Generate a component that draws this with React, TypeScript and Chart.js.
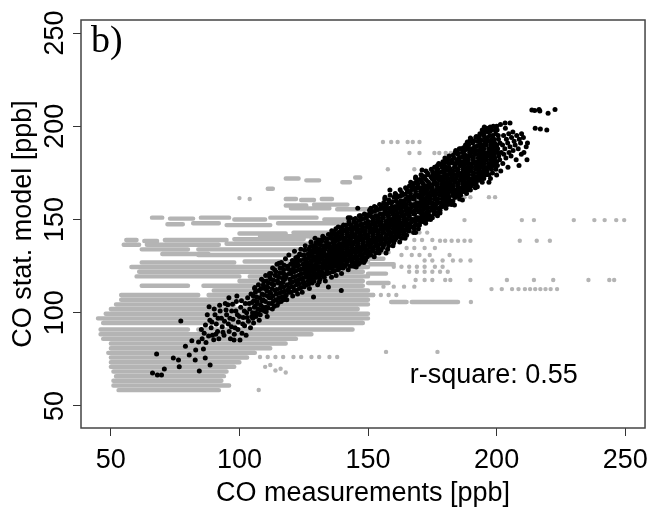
import { useEffect, useRef } from 'react';
import { Chart, registerables } from 'chart.js';

Chart.register(...registerables);

// ---- axes ----
const xTickValues = [50, 100, 150, 200, 250];
const yTickValues = [50, 100, 150, 200, 250];
const xRange = [38.4, 257.7];
const yRange = [38.2, 257];
const xTitle = 'CO measurements [ppb]';
const yTitle = 'CO stat. model [ppb]';
const panelLabel = 'b)';
const statLabel = 'r-square: 0.55';
const statPos = [166.2, 62.3];

// ---- gray series: horizontal runs of overlapping dots [y, xStart, xEnd] ----
const grayRuns: number[][] = [
  [172, 118, 123], [171, 126, 131], [170, 140, 143], [172.5, 145, 147], [166.5, 111, 113],
  [161, 118, 122], [160.5, 124, 129], [161, 132, 136],
  [157.5, 118, 126], [158, 129, 142], [156, 120, 135], [155.5, 138, 150],
  [151, 66, 70], [150.5, 73, 82], [151, 85, 96], [150, 98, 110], [151, 112, 130], [150, 133, 150],
  [147.5, 72, 78], [148, 82, 92], [147, 95, 112], [148, 115, 140], [147.5, 143, 155],
  [142.5, 100, 118], [143, 121, 150], [141, 108, 135], [145, 155, 162],
  [139, 56, 60], [138.5, 63, 68], [139, 71, 95], [139.5, 98, 125], [139, 128, 152],
  [136.5, 55, 61], [136.5, 64, 92], [137, 95, 150],
  [134, 62, 80], [134, 84, 150], [131.5, 70, 88], [131, 84, 152], [132.5, 152, 158],
  [129, 150, 156], [127, 62, 98], [127.5, 102, 150], [126, 151, 160], [124.5, 58, 150], [122, 61, 148],
  [121, 150, 157], [119.5, 60, 100], [119.5, 104, 150], [117, 100, 148], [116, 150, 158],
  [114.5, 62, 80], [114.5, 86, 148], [112, 90, 150],
  [109.5, 54, 84], [109.5, 88, 152], [107, 54, 150],
  [104.5, 52, 98], [104.5, 102, 150], [105.8, 159, 165], [105.8, 167, 185],
  [102, 50, 146], [99.5, 48, 150], [97, 45, 150], [94.5, 47, 148],
  [91, 46, 80], [91, 84, 144], [88.5, 46, 128], [86, 47, 122], [83.5, 50, 118],
  [81, 50, 112], [78.5, 49, 106], [76, 50, 103], [73.5, 50, 100], [71, 50, 98],
  [68.5, 51, 95], [66, 52, 94], [63.5, 51, 93], [61, 51, 96], [58.5, 53, 92],
];

// ---- gray series: isolated dots [x, y] ----
const grayDots: number[][] = [
  [155.8, 191.6], [159, 191.6], [161.5, 191.6], [165.4, 191.6], [167.4, 191.6], [170, 191.6],
  [166.1, 185.7], [170, 185.7], [175.8, 185.7], [177.7, 185.7], [180.2, 185.7], [182.2, 185.7],
  [157.7, 177], [168, 177], [100, 161.5], [104, 161],
  [174, 162], [184.7, 162], [187.5, 162], [189.8, 162], [197, 162], [199.4, 162],
  [187.5, 149.7], [209.8, 149.7], [214.5, 149.7], [230, 149.7], [238, 149.7], [242, 149.7], [246.5, 149.7], [249.6, 149.7],
  [155, 146.1], [158, 146.1], [161, 146.1], [166, 143], [170, 143], [173, 143],
  [168, 139], [171, 139], [175, 139],
  [178, 138.6], [180, 138.6], [182.5, 138.6], [185, 138.6], [187.5, 138.6], [189.8, 138.6], [209, 138.6], [215.6, 138.6], [220.7, 138.6],
  [165, 134.7], [168, 134.7], [172, 134.7], [176, 134.7],
  [163, 131], [167, 131], [170, 131], [174, 131], [181.7, 131],
  [172, 128], [175, 128], [179, 128], [183, 128], [186, 128], [189.8, 128],
  [160, 124.7], [163, 124.7], [166, 124.7], [169, 124.7], [172, 124.7], [176, 124.7], [179, 124.7],
  [166, 122], [169, 122], [172, 122], [175, 122], [178, 122], [181, 122],
  [168.5, 117.6], [172, 117.6], [175, 117.6], [180, 117.6], [182, 117.6], [189.8, 117.6], [204, 117.6], [214.5, 117.6], [222, 117.6], [235.7, 117.6], [243.8, 117.6], [245.7, 117.6],
  [156, 114], [160, 114], [164, 114], [168, 114],
  [198, 112.7], [202, 112.7], [206, 112.7], [208.5, 112.7], [211, 112.7], [213, 112.7], [215, 112.7], [217, 112.7], [219, 112.7], [221, 112.7], [223.5, 112.7],
  [152, 109.5], [155, 109.5], [158, 109.5], [161, 109.5],
  [190, 105.8], [157, 79], [177, 79],
  [108, 76.3], [111, 76.3], [114, 76.3], [117, 76.3], [121, 76.3], [124, 76.3], [128, 76.3], [131, 76.3], [135, 76.3], [138, 76.3],
  [110, 71], [112, 72], [114, 69], [116, 70], [118, 68], [107.5, 58.6],
];

// ---- black series [x, y] ----
const blackLow: number[][] = [
  [66.2, 67.7], [68.1, 66.6], [69.7, 66.6], [70.8, 69.8], [67.8, 77.9], [74.3, 75.7], [76.3, 74.7], [76.6, 71.0],
  [77.2, 95.6], [80.5, 77.3], [82.8, 74.7], [84.4, 68.8], [86.7, 75.7], [88.6, 72.0],
  [84.1, 84.3], [85.5, 86], [86.3, 89], [87, 84], [88.2, 103.2], [88.5, 96], [89, 92], [89.5, 88], [90, 85.5],
  [90.5, 99], [91, 94], [91.5, 90], [92, 86], [92.5, 101], [93, 97], [93.3, 92.5], [94, 88], [94.5, 105],
  [95, 99], [95.5, 104.3], [95.7, 94], [96, 90], [96.5, 86], [97, 101], [97.5, 96.5], [97.9, 85.4],
  [98.3, 92], [98.8, 106], [99.2, 99], [99.6, 95], [100.2, 85.4], [100.5, 103], [101, 89], [101.5, 97.5],
  [102, 93], [102.3, 104.9], [102.8, 100], [103.2, 108], [103.5, 95.5], [104, 102], [104.5, 110], [104.8, 98], [105, 105.5],
  [85.2, 91], [86.8, 93.5], [87.5, 99], [88, 87.5], [89.3, 95], [90.2, 102], [90.8, 88.5], [91.7, 97],
  [92.3, 104], [93.6, 89.5], [94.2, 95.5], [94.8, 101.5], [95.9, 108], [96.3, 97], [96.9, 92.5], [97.3, 104.5],
  [98, 88.5], [98.6, 101], [99, 109], [99.4, 91], [100, 98], [100.8, 106.5], [101.3, 94], [101.9, 101],
  [102.6, 88], [103, 97.5], [103.8, 105], [104.3, 92], [105.5, 94.5], [106, 113.5], [83, 80], [81.5, 85], [86, 80.5], [79, 82],
];

const blackMid: number[][] = [
  [105.2, 97], [105.8, 103], [105.4, 109], [105.9, 113], [106.3, 100], [106.8, 106], [106.2, 111],
  [107.7, 96], [107.2, 102], [107.9, 108], [107.4, 115], [108.3, 104], [108.8, 110], [108.6, 118], [108.1, 99],
  [109.7, 101], [109.2, 107], [109.8, 113], [109.4, 117], [110.3, 103], [110.9, 109], [110.6, 114], [110.2, 120], [110.8, 98],
  [111.4, 105], [111.9, 111], [111.2, 116], [111.7, 121], [112.8, 102], [112.3, 108], [112.7, 113], [112.2, 118], [112.9, 124],
  [113.2, 106], [113.8, 112], [113.4, 115], [113.9, 120], [114.7, 104], [114.3, 110], [114.8, 117], [114.2, 122], [114.6, 126],
  [115.3, 108], [115.9, 113], [115.4, 119], [115.8, 124], [116.2, 106], [116.7, 111], [116.4, 116], [116.9, 121], [116.3, 127],
  [117.8, 109], [117.3, 114], [117.6, 118], [117.2, 123], [117.9, 129], [118.4, 107], [118.9, 112], [118.2, 120], [118.7, 125],
  [119.3, 111], [119.8, 116], [119.4, 121], [119.9, 126], [119.2, 131], [120.7, 109], [120.2, 114], [120.8, 119], [120.4, 123], [120.6, 128],
  [121.3, 112], [121.8, 117], [121.2, 122], [121.7, 127], [121.4, 133], [122.6, 110], [122.2, 115], [122.9, 120], [122.4, 125], [122.7, 130],
  [123.3, 113], [123.8, 118], [123.2, 123], [123.6, 128], [123.9, 134], [124.4, 111], [124.8, 116], [124.2, 121], [124.7, 126], [124.3, 131],
  [125.2, 114], [125.7, 119], [125.4, 123], [125.9, 127], [125.1, 131], [125.6, 136],
  [126.8, 117], [126.3, 121], [126.6, 125], [126.2, 129], [126.9, 134],
  [127.2, 113], [127.7, 118], [127.4, 122], [127.9, 126], [127.1, 130], [127.6, 133], [127.8, 138],
  [128.3, 116], [128.8, 120], [128.4, 124], [128.9, 128], [128.2, 132], [128.7, 136],
  [129.7, 119], [129.2, 123], [129.8, 126], [129.3, 130], [129.6, 135], [129.4, 140],
  [130.4, 115], [130.8, 121], [130.2, 125], [130.7, 129], [130.3, 133], [130.9, 137],
  [131.3, 118], [131.7, 122], [131.2, 127], [131.8, 131], [131.4, 134], [131.6, 139],
  [132.7, 120], [132.3, 124], [132.8, 128], [132.2, 132], [132.6, 136], [132.4, 141],
  [133.4, 117], [133.9, 123], [133.2, 126], [133.6, 130], [133.3, 134], [133.8, 138],
  [134.2, 121], [134.7, 125], [134.4, 129], [134.9, 133], [134.3, 137], [134.6, 142],
  [135.8, 119], [135.3, 124], [135.7, 127], [135.2, 131], [135.6, 135], [135.4, 140], [135.9, 144],
  [136.3, 122], [136.8, 126], [136.2, 130], [136.7, 134], [136.4, 138], [136.9, 142],
  [137.6, 120], [137.2, 125], [137.8, 128], [137.3, 132], [137.7, 136], [137.1, 140], [137.5, 145],
  [138.4, 123], [138.9, 127], [138.3, 131], [138.7, 135], [138.2, 139], [138.6, 143],
  [139.7, 121], [139.3, 126], [139.8, 130], [139.2, 133], [139.6, 137], [139.4, 141], [139.9, 146],
  [140.3, 124], [140.8, 128], [140.4, 132], [140.9, 136], [140.2, 140], [140.7, 144],
  [141.6, 126], [141.2, 130], [141.7, 134], [141.3, 138], [141.8, 142], [141.4, 147],
  [142.3, 123], [142.8, 129], [142.2, 133], [142.7, 137], [142.4, 141], [142.9, 145], [142.6, 149],
  [143.7, 127], [143.3, 131], [143.8, 135], [143.2, 139], [143.6, 143], [143.4, 147],
  [144.4, 125], [144.8, 130], [144.3, 134], [144.7, 138], [144.2, 142], [144.9, 146], [144.5, 150],
  [145.7, 128], [145.2, 132], [145.8, 136], [145.4, 140], [145.6, 144], [145.3, 148],
  [146.3, 126], [146.8, 131], [146.2, 135], [146.7, 139], [146.4, 143], [146.9, 147], [146.6, 152],
  [147.6, 129], [147.2, 133], [147.9, 137], [147.3, 141], [147.7, 145], [147.4, 150],
  [148.4, 127], [148.8, 132], [148.2, 136], [148.7, 140], [148.3, 144], [148.9, 148], [148.6, 153],
  [149.7, 130], [149.3, 134], [149.8, 138], [149.2, 142], [149.6, 146], [149.4, 151],
];

const blackUpper: number[][] = [
  [150.3, 131], [150.8, 135], [150.2, 139], [150.7, 143], [150.4, 147], [150.9, 152], [150.6, 155],
  [151.6, 133], [151.2, 137], [151.8, 141], [151.3, 145], [151.7, 149], [151.4, 154],
  [152.4, 130], [152.8, 136], [152.2, 140], [152.7, 144], [152.3, 148], [152.9, 152], [152.5, 157],
  [153.7, 134], [153.3, 138], [153.8, 142], [153.2, 146], [153.6, 150], [153.4, 155],
  [154.3, 132], [154.8, 137], [154.4, 141], [154.9, 145], [154.2, 149], [154.7, 153], [154.5, 158],
  [155.8, 135], [155.3, 139], [155.7, 143], [155.2, 147], [155.6, 151], [155.4, 156],
  [156.4, 137], [156.9, 141], [156.3, 145], [156.8, 149], [156.2, 153], [156.7, 157], [156.5, 161],
  [157.6, 134], [157.2, 140], [157.8, 144], [157.3, 148], [157.7, 152], [157.4, 156],
  [158.3, 138], [158.8, 142], [158.2, 146], [158.7, 150], [158.4, 154], [158.9, 159], [158.6, 163],
  [159.7, 136], [159.3, 141], [159.8, 145], [159.2, 149], [159.6, 153], [159.4, 157],
  [160.4, 139], [160.8, 143], [160.3, 147], [160.7, 151], [160.2, 155], [160.9, 160], [160.6, 164],
  [161.6, 141], [161.2, 145], [161.7, 149], [161.3, 153], [161.8, 157], [161.4, 162],
  [162.3, 138], [162.8, 144], [162.4, 148], [162.9, 152], [162.2, 156], [162.7, 160], [162.5, 166],
  [163.7, 142], [163.3, 146], [163.8, 150], [163.2, 154], [163.6, 158], [163.4, 163],
  [164.4, 140], [164.9, 145], [164.3, 149], [164.8, 153], [164.2, 157], [164.7, 161], [164.6, 167],
  [165.6, 144], [165.2, 148], [165.8, 152], [165.3, 156], [165.7, 160], [165.4, 165],
  [166.3, 146], [166.8, 150], [166.2, 154], [166.7, 158], [166.4, 162], [166.9, 166], [166.6, 170],
  [167.7, 143], [167.3, 149], [167.8, 153], [167.2, 157], [167.6, 161], [167.4, 168],
  [168.4, 147], [168.8, 151], [168.3, 155], [168.9, 159], [168.2, 163], [168.7, 167], [168.5, 172],
  [169.6, 145], [169.2, 150], [169.8, 154], [169.3, 158], [169.7, 162], [169.4, 169],
  [170.3, 149], [170.8, 153], [170.2, 157], [170.7, 161], [170.4, 165], [170.9, 170], [170.6, 174],
  [171.7, 151], [171.3, 155], [171.8, 159], [171.2, 163], [171.6, 167], [171.4, 172],
  [172.4, 148], [172.9, 154], [172.3, 158], [172.8, 162], [172.2, 166], [172.7, 171], [172.5, 176],
  [173.6, 152], [173.2, 156], [173.8, 160], [173.3, 164], [173.7, 168], [173.4, 174],
  [174.3, 150], [174.8, 155], [174.2, 159], [174.7, 163], [174.4, 167], [174.9, 172], [174.6, 177],
];

const blackTop: number[][] = [
  [175.7, 153], [175.2, 157], [175.8, 161], [175.3, 165], [175.6, 169], [175.4, 174], [175.9, 178],
  [176.3, 156], [176.8, 160], [176.4, 164], [176.9, 168], [176.2, 172], [176.7, 176],
  [177.6, 154], [177.2, 159], [177.8, 163], [177.3, 167], [177.7, 171], [177.4, 175], [177.5, 180],
  [178.4, 157], [178.9, 161], [178.3, 165], [178.7, 169], [178.2, 173], [178.8, 178],
  [179.7, 159], [179.3, 163], [179.8, 167], [179.2, 171], [179.6, 175], [179.4, 179], [179.9, 183],
  [180.3, 156], [180.8, 162], [180.2, 166], [180.7, 170], [180.4, 174], [180.6, 181],
  [181.6, 160], [181.2, 164], [181.8, 168], [181.3, 172], [181.7, 176], [181.4, 180], [181.5, 184],
  [182.4, 158], [182.9, 163], [182.3, 167], [182.8, 171], [182.2, 175], [182.7, 182],
  [183.7, 162], [183.3, 166], [183.8, 170], [183.2, 174], [183.6, 178], [183.4, 183], [183.9, 186],
  [184.3, 164], [184.8, 168], [184.2, 172], [184.7, 176], [184.4, 180], [184.9, 185],
  [185.6, 161], [185.2, 167], [185.7, 171], [185.3, 175], [185.8, 179], [185.4, 183], [185.5, 188],
  [186.4, 165], [186.8, 169], [186.3, 173], [186.9, 177], [186.2, 181], [186.7, 186],
  [187.7, 167], [187.3, 171], [187.8, 175], [187.2, 179], [187.6, 183], [187.4, 187], [187.9, 190],
  [188.3, 164], [188.8, 170], [188.2, 174], [188.7, 178], [188.4, 182], [188.6, 189],
  [189.6, 168], [189.2, 172], [189.8, 176], [189.3, 180], [189.7, 184], [189.4, 188], [189.5, 192],
  [190.4, 170], [190.9, 174], [190.3, 178], [190.8, 182], [190.2, 186], [190.7, 191],
  [191.7, 167], [191.3, 173], [191.8, 177], [191.2, 181], [191.6, 185], [191.4, 189], [191.9, 194],
  [192.3, 171], [192.8, 175], [192.4, 179], [192.9, 183], [192.2, 187], [192.7, 192],
  [193.6, 173], [193.2, 177], [193.7, 181], [193.3, 185], [193.8, 189], [193.4, 193], [193.5, 196],
  [194.4, 170], [194.8, 176], [194.3, 180], [194.7, 184], [194.2, 188], [194.9, 195],
  [195.7, 174], [195.3, 178], [195.8, 182], [195.2, 186], [195.6, 190], [195.4, 194], [195.9, 198],
  [196.3, 176], [196.8, 180], [196.4, 184], [196.9, 188], [196.2, 192], [196.7, 197],
  [197.6, 172], [197.2, 178], [197.8, 182], [197.3, 186], [197.7, 190], [197.4, 195], [197.5, 199],
  [198.4, 175], [198.9, 181], [198.3, 185], [198.8, 189], [198.2, 193], [198.7, 200],
  [199.7, 177], [199.3, 183], [199.8, 187], [199.2, 191], [199.6, 196],
  [200.3, 179], [200.8, 184], [200.4, 188], [200.7, 193], [200.2, 198],
  [201.6, 176], [201.2, 182], [201.8, 186], [201.3, 191], [201.5, 201],
  [202.4, 180], [202.8, 185], [202.3, 190], [202.7, 195],
  [203.6, 183], [203.2, 188], [203.8, 193], [203.4, 199], [203.3, 201.7],
  [204.4, 178], [204.8, 186], [204.3, 191], [204.7, 196],
  [205.6, 184], [205.2, 189], [205.8, 194], [205.2, 201.7],
  [206.4, 187], [206.8, 192], [206.3, 197], [207.6, 182], [207.2, 190], [207.8, 195],
  [208.7, 179], [208.4, 188], [208.8, 193], [209.6, 185], [209.3, 191], [209.7, 196],
  [210.6, 186], [210.4, 194], [211.8, 182], [211.5, 189], [212, 191],
  [213.7, 208.7], [215, 199], [216.5, 209], [217, 198.5], [219.5, 198], [220, 207], [222.7, 209], [216.8, 208.2], [214.8, 208.5],
];

const blackFillA: number[][] = [
  [105.1, 100], [105.6, 106.5], [106.4, 98], [106.1, 103.5], [106.7, 108.5],
  [107.3, 99.5], [107.0, 105], [107.6, 112], [108.2, 101.5], [108.7, 106.5], [108.4, 113],
  [109.1, 103], [109.6, 109.5], [109.3, 115], [110.4, 100.5], [110.1, 106], [110.7, 111.5], [110.5, 117],
  [111.2, 102.5], [111.6, 108], [111.0, 113.5], [111.8, 119], [112.4, 105], [112.1, 110.5], [112.6, 115.5], [112.3, 121],
  [113.6, 103.5], [113.0, 109], [113.3, 117.5], [113.7, 123], [114.1, 107], [114.5, 112.5], [114.9, 119.5],
  [115.2, 105.5], [115.6, 110.5], [115.1, 116], [115.7, 121.5], [115.4, 126.5],
  [116.6, 108.5], [116.1, 114], [116.8, 118.5], [116.5, 124],
  [117.1, 107], [117.5, 111.5], [117.0, 116.5], [117.7, 120.5], [117.4, 125.5],
  [118.2, 109.5], [118.6, 115], [118.0, 119], [118.8, 124], [119.1, 113], [119.6, 118], [119.0, 123.5],
  [120.1, 111], [120.5, 116.5], [120.0, 121], [120.9, 126], [121.0, 114], [121.6, 119.5], [121.1, 124.5], [121.9, 129.5],
  [122.1, 112], [122.7, 117.5], [122.0, 122.5], [122.5, 127.5], [123.1, 115.5], [123.7, 120.5], [123.0, 125.5], [123.4, 131.5],
  [124.0, 113.5], [124.6, 118.5], [124.1, 123.5], [124.9, 128.5],
  [125.0, 116.5], [125.5, 121], [125.3, 125], [125.8, 129], [125.4, 133.5],
  [126.1, 115], [126.6, 119], [126.0, 123], [126.4, 127], [126.7, 131.5],
  [127.0, 115.5], [127.5, 120], [127.3, 124], [127.8, 128], [127.2, 132], [127.6, 135.5],
  [128.1, 118], [128.6, 122], [128.0, 126], [128.5, 130], [128.8, 134],
  [129.0, 117], [129.5, 121], [129.1, 124.5], [129.9, 128.5], [129.2, 132.5], [129.7, 137.5],
  [130.0, 119], [130.6, 123], [130.1, 127], [130.5, 131], [130.0, 135], [130.6, 139],
  [131.0, 116.5], [131.5, 120], [131.1, 124.5], [131.9, 129], [131.0, 132.5], [131.5, 136.5],
  [132.0, 122], [132.5, 126], [132.1, 130], [132.9, 134], [132.0, 138.5],
  [133.0, 119], [133.5, 121], [133.1, 124.5], [133.7, 128], [133.0, 132], [133.5, 136], [133.1, 140],
  [134.0, 123], [134.5, 127], [134.1, 131], [134.6, 135], [134.0, 139.5],
  [135.0, 121.5], [135.5, 126], [135.1, 129], [135.9, 133], [135.0, 137], [135.6, 142],
  [136.0, 124], [136.5, 128], [136.1, 132], [136.6, 136], [136.0, 140], [136.5, 143.5],
  [137.0, 122.5], [137.5, 127], [137.1, 130], [137.9, 134], [137.0, 138], [137.4, 142.5],
  [138.0, 125], [138.5, 129], [138.1, 133], [138.8, 137], [138.0, 141], [138.4, 146],
  [139.0, 124], [139.5, 128], [139.1, 131.5], [139.9, 135.5], [139.0, 139.5], [139.5, 144],
  [140.0, 126], [140.5, 130], [140.1, 134], [140.6, 138], [140.0, 142], [140.5, 147],
  [141.0, 125], [141.5, 128.5], [141.1, 132], [141.9, 136], [141.0, 140], [141.6, 145],
  [142.0, 127.5], [142.5, 131], [142.1, 135], [142.6, 139], [142.0, 143], [142.5, 147.5],
  [143.0, 125], [143.5, 129], [143.1, 133], [143.9, 137], [143.0, 141], [143.5, 145], [143.1, 151],
  [144.0, 128.5], [144.5, 132.5], [144.1, 136.5], [144.6, 140.5], [144.0, 144.5], [144.5, 148.5],
  [145.0, 126.5], [145.5, 130], [145.1, 134], [145.9, 138], [145.0, 142], [145.5, 146], [145.1, 150.5],
  [146.0, 129], [146.5, 133], [146.1, 137], [146.6, 141], [146.0, 145], [146.5, 149.5],
  [147.0, 127], [147.5, 131], [147.1, 135], [147.9, 139], [147.0, 143], [147.5, 147.5], [147.1, 152],
  [148.0, 130], [148.5, 134], [148.1, 138], [148.6, 142], [148.0, 146], [148.5, 150.5],
  [149.0, 128.5], [149.5, 132], [149.1, 136], [149.9, 140], [149.0, 144], [149.5, 148], [149.1, 152.5],
];

const blackFillB: number[][] = [
  [150.0, 133], [150.5, 137], [150.1, 141], [150.6, 145], [150.0, 149], [150.5, 153],
  [151.0, 131], [151.5, 135], [151.1, 139], [151.9, 143], [151.0, 147], [151.5, 151.5], [151.1, 156],
  [152.0, 134], [152.5, 138], [152.1, 142], [152.6, 146], [152.0, 150], [152.5, 154.5],
  [153.0, 132], [153.5, 136], [153.1, 140], [153.9, 144], [153.0, 148], [153.5, 152], [153.1, 156.5],
  [154.0, 135], [154.5, 139], [154.1, 143], [154.6, 147], [154.0, 151], [154.5, 155.5],
  [155.0, 133.5], [155.5, 137], [155.1, 141], [155.9, 145], [155.0, 149], [155.5, 153], [155.1, 157.5],
  [156.0, 136], [156.5, 139.5], [156.1, 143], [156.6, 147], [156.0, 151], [156.5, 155], [156.1, 159],
  [157.0, 138], [157.5, 142], [157.1, 146], [157.9, 150], [157.0, 154], [157.5, 158.5],
  [158.0, 136], [158.5, 140], [158.1, 144], [158.6, 148], [158.0, 152], [158.5, 156], [158.1, 160.5],
  [159.0, 139], [159.5, 143], [159.1, 147], [159.9, 151], [159.0, 155], [159.5, 159.5],
  [160.0, 137.5], [160.5, 141], [160.1, 145], [160.6, 149], [160.0, 153], [160.5, 157], [160.1, 162],
  [161.0, 140], [161.5, 143.5], [161.1, 147], [161.9, 151], [161.0, 155], [161.5, 159], [161.1, 163],
  [162.0, 142], [162.5, 146], [162.1, 150], [162.6, 154], [162.0, 158], [162.5, 162.5],
  [163.0, 140], [163.5, 144], [163.1, 148], [163.9, 152], [163.0, 156], [163.5, 160], [163.1, 164.5],
  [164.0, 143], [164.5, 147], [164.1, 151], [164.6, 155], [164.0, 159], [164.5, 163.5],
  [165.0, 141.5], [165.5, 146], [165.1, 150], [165.9, 154], [165.0, 158], [165.5, 162], [165.1, 166],
  [166.0, 144], [166.5, 148], [166.1, 152], [166.6, 156], [166.0, 160], [166.5, 164], [166.1, 168],
  [167.0, 146], [167.5, 150], [167.1, 154], [167.9, 158], [167.0, 162], [167.5, 166.5],
  [168.0, 145], [168.5, 149], [168.1, 153], [168.6, 157], [168.0, 161], [168.5, 165], [168.1, 169.5],
  [169.0, 147], [169.5, 151], [169.1, 155], [169.9, 159], [169.0, 163], [169.5, 167], [169.1, 171],
  [170.0, 147], [170.5, 151], [170.1, 155], [170.6, 159], [170.0, 163], [170.5, 167], [170.1, 171.5],
  [171.0, 149], [171.5, 153], [171.1, 157], [171.9, 161], [171.0, 165], [171.5, 169], [171.1, 173.5],
  [172.0, 150], [172.5, 152], [172.1, 156], [172.6, 160], [172.0, 164], [172.5, 168], [172.1, 173],
  [173.0, 150], [173.5, 154], [173.1, 158], [173.9, 162], [173.0, 166], [173.5, 170], [173.1, 175],
  [174.0, 152], [174.5, 156.5], [174.1, 161], [174.6, 165], [174.0, 169], [174.5, 173],
  [175.0, 151], [175.5, 155], [175.1, 159], [175.9, 163], [175.0, 167], [175.5, 171], [175.1, 175.5],
  [176.0, 154], [176.5, 158], [176.1, 162], [176.6, 166], [176.0, 170], [176.5, 174], [176.1, 178],
  [177.0, 152], [177.5, 156], [177.1, 161], [177.9, 165], [177.0, 169], [177.5, 173], [177.1, 177],
  [178.0, 155], [178.5, 159], [178.1, 163], [178.6, 167], [178.0, 171], [178.5, 175.5], [178.1, 179.5],
  [179.0, 157], [179.5, 161], [179.1, 165], [179.9, 169], [179.0, 173], [179.5, 177], [179.1, 181],
  [180.0, 158], [180.5, 160], [180.1, 164], [180.6, 168], [180.0, 172], [180.5, 176.5], [180.1, 178.5],
  [181.0, 158], [181.5, 162], [181.1, 166], [181.9, 170], [181.0, 174], [181.5, 178], [181.1, 182],
  [182.0, 160], [182.5, 165], [182.1, 169], [182.6, 173], [182.0, 177], [182.5, 180.5],
  [183.0, 160], [183.5, 164], [183.1, 168], [183.9, 172], [183.0, 176], [183.5, 180], [183.1, 184.5],
  [184.0, 162], [184.5, 166], [184.1, 170], [184.6, 174], [184.0, 178], [184.5, 182], [184.1, 187],
  [185.0, 163], [185.5, 165], [185.1, 169], [185.9, 173], [185.0, 177], [185.5, 181], [185.1, 185.5],
  [186.0, 163], [186.5, 167], [186.1, 171], [186.6, 175], [186.0, 179], [186.5, 183.5], [186.1, 188],
  [187.0, 165], [187.5, 169], [187.1, 173], [187.9, 177], [187.0, 181], [187.5, 185], [187.1, 188.5],
  [188.0, 166], [188.5, 168], [188.1, 172], [188.6, 176], [188.0, 180], [188.5, 184], [188.1, 187.5], [188.6, 191],
  [189.0, 166], [189.5, 170], [189.1, 174], [189.9, 178], [189.0, 182], [189.5, 186], [189.1, 190],
  [190.0, 168], [190.5, 172], [190.1, 176], [190.6, 180], [190.0, 184], [190.5, 188], [190.1, 193],
  [191.0, 169], [191.5, 171], [191.1, 175], [191.9, 179], [191.0, 183], [191.5, 187], [191.1, 192],
  [192.0, 169], [192.5, 173], [192.1, 177], [192.6, 181], [192.0, 185], [192.5, 189.5], [192.1, 194.5],
  [193.0, 171], [193.5, 175], [193.1, 179], [193.9, 183], [193.0, 187], [193.5, 191], [193.1, 194.5],
  [194.0, 172], [194.5, 174], [194.1, 178], [194.6, 182], [194.0, 186], [194.5, 190], [194.1, 192.5], [194.6, 197],
  [195.0, 172], [195.5, 176], [195.1, 180], [195.9, 184], [195.0, 188], [195.5, 192], [195.1, 196],
  [196.0, 174], [196.5, 178], [196.1, 182], [196.6, 186], [196.0, 190], [196.5, 194], [196.1, 199],
  [197.0, 174], [197.5, 180], [197.1, 184], [197.9, 188], [197.0, 192], [197.5, 197.5],
  [198.0, 177], [198.5, 179], [198.1, 183], [198.6, 187], [198.0, 191], [198.5, 195], [198.1, 198],
  [199.0, 179], [199.5, 181], [199.1, 185], [199.9, 189], [199.0, 193], [199.5, 198],
  [200.0, 181], [200.5, 186], [200.1, 190], [200.6, 195], [200.0, 200],
];

const blackEdges: number[][] = [
  [200, 173.9], [197, 170], [192.5, 167.6], [189.8, 165.8], [186.7, 160.5], [183.6, 157.8], [178, 153.5],
  [174, 151], [172, 148.7], [168.5, 143], [165.4, 145.4], [160.4, 140.6], [157, 132], [148.8, 128],
  [145.4, 124.5], [139.6, 112], [134.6, 113.8], [128.8, 108.4],
  [142.3, 151], [146, 156], [156.6, 162], [158.5, 165.8], [168.5, 172.8], [171, 176.5], [177, 179],
  [180, 180.8], [188.6, 191.6], [189.8, 193.7], [194.4, 198], [195.2, 199.6], [197.5, 199.6],
];

const GRAY = '#b4b4b4';
const SANS = 'Liberation Sans';

export default function App() {
  const ref = useRef<HTMLCanvasElement | null>(null);

  useEffect(() => {
    if (!ref.current) return;
    const runData: { x: number; y: number | null }[] = [];
    for (const [y, x0, x1] of grayRuns) {
      runData.push({ x: x0, y }, { x: x1, y }, { x: x1, y: null });
    }
    const toPts = (arr: number[][]) => arr.map(([x, y]) => ({ x, y }));
    const black = [...blackLow, ...blackMid, ...blackFillA, ...blackUpper, ...blackFillB, ...blackTop, ...blackEdges];

    const decor = {
      id: 'decor',
      afterDraw(chart: any) {
        const { ctx, chartArea } = chart;
        const { left, top, right, bottom } = chartArea;
        ctx.save();
        ctx.strokeStyle = '#444';
        ctx.lineWidth = 1.5;
        ctx.strokeRect(left, top, right - left, bottom - top);
        ctx.fillStyle = '#000';
        ctx.textBaseline = 'alphabetic';
        ctx.textAlign = 'left';
        ctx.font = '38px "Liberation Serif"';
        ctx.fillText(panelLabel, left + 10, top + 32);
        ctx.font = `27px "${SANS}"`;
        const sx = chart.scales.x.getPixelForValue(statPos[0]);
        const sy = chart.scales.y.getPixelForValue(statPos[1]);
        ctx.fillText(statLabel, sx, sy);
        ctx.restore();
      },
    };

    const chart = new Chart(ref.current, {
      type: 'scatter',
      data: {
        datasets: [
          {
            label: 'model vs measurements (selected)',
            data: toPts(black),
            backgroundColor: '#000',
            pointRadius: 2.5,
            pointBorderWidth: 0,
            order: 0,
          } as any,
          {
            label: 'all (isolated)',
            data: toPts(grayDots),
            backgroundColor: GRAY,
            pointRadius: 2.2,
            pointBorderWidth: 0,
            order: 1,
          } as any,
          {
            type: 'line',
            label: 'all (runs)',
            data: runData,
            borderColor: GRAY,
            borderWidth: 4.4,
            borderCapStyle: 'round',
            borderJoinStyle: 'round',
            pointRadius: 0,
            showLine: true,
            spanGaps: false,
            fill: false,
            order: 2,
          } as any,
        ],
      },
      options: {
        animation: false,
        responsive: false,
        devicePixelRatio: 1,
        events: [],
        layout: { padding: { top: 20, right: 7, left: 0, bottom: 0 } },
        plugins: { legend: { display: false }, tooltip: { enabled: false } },
        scales: {
          x: {
            type: 'linear',
            min: xRange[0],
            max: xRange[1],
            afterBuildTicks: (axis: any) => {
              axis.ticks = xTickValues.map((value) => ({ value }));
            },
            afterFit: (axis: any) => {
              axis.height = 89;
            },
            ticks: { font: { family: SANS, size: 27 }, color: '#000', padding: 8, maxRotation: 0, autoSkip: false },
            grid: { drawOnChartArea: false, drawTicks: true, tickLength: 8, tickColor: '#333', tickWidth: 1 },
            border: { display: false },
            title: { display: true, text: xTitle, color: '#000', font: { family: SANS, size: 27 }, padding: { top: 0, bottom: 7 } },
          },
          y: {
            type: 'linear',
            min: yRange[0],
            max: yRange[1],
            afterBuildTicks: (axis: any) => {
              axis.ticks = yTickValues.map((value) => ({ value }));
            },
            afterFit: (axis: any) => {
              axis.width = 81;
            },
            ticks: {
              font: { family: SANS, size: 27 },
              color: '#000',
              padding: -5.5,
              minRotation: 90,
              maxRotation: 90,
              crossAlign: 'center',
              autoSkip: false,
            },
            grid: { drawOnChartArea: false, drawTicks: true, tickLength: 8, tickColor: '#333', tickWidth: 1 },
            border: { display: false },
            title: { display: true, text: yTitle, color: '#000', font: { family: SANS, size: 27 }, padding: { top: 7, bottom: 0 } },
          },
        },
      } as any,
      plugins: [decor],
    });
    return () => chart.destroy();
  }, []);

  return (
    <canvas
      ref={ref}
      width={656}
      height={517}
      style={{ position: 'fixed', left: 0, top: 0, width: 656, height: 517 }}
    />
  );
}
